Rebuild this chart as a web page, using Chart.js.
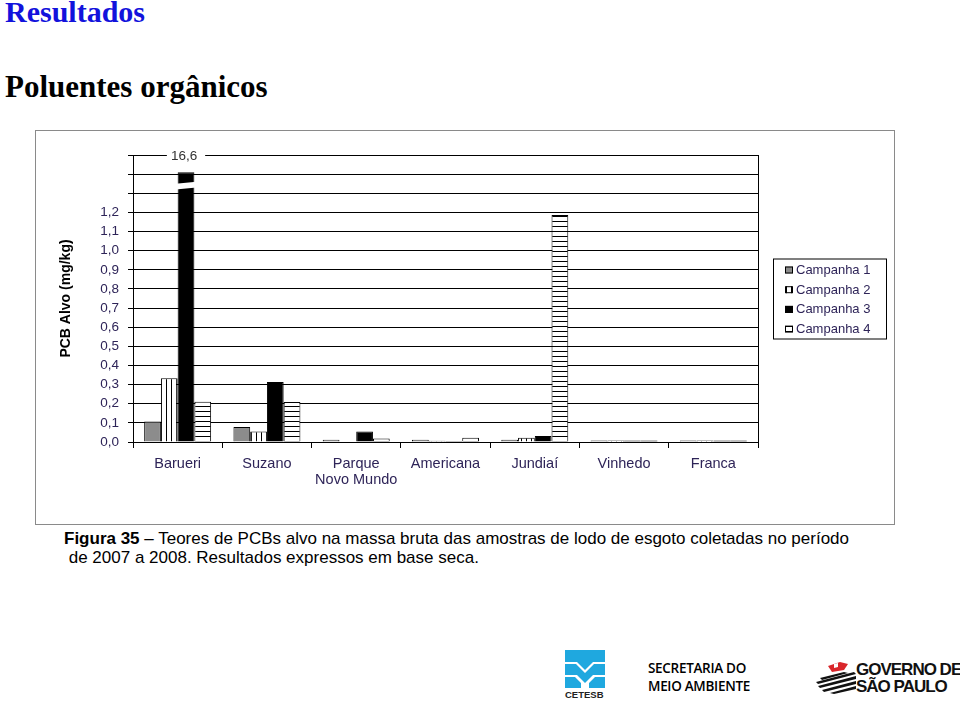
<!DOCTYPE html>
<html>
<head>
<meta charset="utf-8">
<script src="https://cdn.jsdelivr.net/npm/chart.js@4.4.1/dist/chart.umd.min.js"></script>
<style>
  html,body{margin:0;padding:0;background:#fff;}
  body{width:960px;height:702px;position:relative;overflow:hidden;font-family:"Liberation Sans",Arial,sans-serif;}
  .h1{position:absolute;left:5px;top:-5px;font-family:"Liberation Serif","Times New Roman",serif;font-weight:bold;font-size:30px;line-height:34px;color:#1212dc;white-space:nowrap;}
  .h2{position:absolute;left:5px;top:70px;font-family:"Liberation Serif","Times New Roman",serif;font-weight:bold;font-size:31px;line-height:34px;color:#000;white-space:nowrap;}
  #frame{position:absolute;left:35px;top:130px;width:860px;height:395px;box-sizing:border-box;border:1px solid #8a8a8a;}
  #c{position:absolute;left:0;top:0;}
  .cap{position:absolute;font-size:17px;line-height:20px;color:#000;white-space:pre;}
  .sma{position:absolute;left:648px;top:659px;font-family:"Open Sans",sans-serif;font-weight:600;font-size:13.5px;line-height:18px;color:#000;letter-spacing:-0.3px;white-space:nowrap;}
  .gov{position:absolute;left:856px;top:661px;font-family:"Liberation Sans",Arial,sans-serif;font-weight:bold;font-size:17px;line-height:17px;color:#111;letter-spacing:-1px;white-space:nowrap;}
  .cetesbtxt{position:absolute;left:565px;top:689px;font-family:"Liberation Sans",Arial,sans-serif;font-weight:bold;font-size:9.5px;color:#222;}
</style>
</head>
<body>
<div class="h1">Resultados</div>
<div class="h2">Poluentes orgânicos</div>
<div id="frame"><canvas id="c" width="858" height="393"></canvas></div>
<div class="cap" style="left:64px;top:529px;"><b>Figura 35</b> – Teores de PCBs alvo na massa bruta das amostras de lodo de esgoto coletadas no período</div>
<div class="cap" style="left:64px;top:548px;"> de 2007 a 2008. Resultados expressos em base seca.</div>

<svg style="position:absolute;left:565px;top:650px" width="40" height="38" viewBox="0 0 40 38">
  <path d="M0 0H40V12H28L20 20L12 12H0Z" fill="#1fa8df"/>
  <path d="M0 14H11L20 23L29 14H40V25H28L20 33L12 25H0Z" fill="#1fa8df"/>
  <path d="M0 27H10L16 33V38H0Z M40 27H30L24 33V38H40Z" fill="#1fa8df"/>
</svg>
<div class="cetesbtxt">CETESB</div>
<div class="sma">SECRETARIA DO<br>MEIO AMBIENTE</div>
<svg style="position:absolute;left:814px;top:660px" width="44" height="34" viewBox="0 0 44 34">
  <path d="M14 6 L26 2 L34 4 L30 10 L18 12 Z" fill="#d9262b"/>
  <path d="M20 4 L24 3 L24 7 L20 8Z" fill="#fff"/>
  <path d="M2 22 L40 12 L42 14 L4 24Z" fill="#111"/>
  <path d="M4 26 L42 16 L42 19 L6 28Z" fill="#111"/>
  <path d="M8 30 L42 21 L42 24 L10 32Z" fill="#111"/>
  <path d="M6 18 L30 12 L34 13 L8 20Z" fill="#111"/>
  <path d="M16 33 L42 26 L42 29 L20 34Z" fill="#111"/>
</svg>
<div class="gov">GOVERNO DE<br>SÃO PAULO</div>

<script>
// ---- data ----
const categories = ['Barueri', 'Suzano', ['Parque', 'Novo Mundo'], 'Americana', 'Jundiaí', 'Vinhedo', 'Franca'];
const seriesNames = ['Campanha 1', 'Campanha 2', 'Campanha 3', 'Campanha 4'];
const campanha1 = [0.107, 0.079, 0.012, 0.012, 0.012, 0.008, 0.008];
const campanha2 = [0.333, 0.055, 0.000, 0.006, 0.022, 0.008, 0.008];
const campanha3 = [16.6,  0.313, 0.055, 0.005, 0.032, 0.008, 0.008];
const campanha4 = [0.211, 0.209, 0.018, 0.022, 1.187, 0.008, 0.008];
const yTickLabels = ['0,0','0,1','0,2','0,3','0,4','0,5','0,6','0,7','0,8','0,9','1,0','1,1','1,2','','',''];
const axisMax = 1.5;          // top of broken axis
const brokenBarTop = 1.41;    // where an off-scale bar is drawn to
const breakGap = [1.32, 1.35];// axis-break gap (value units)

// ---- patterns ----
function stripe(vertical) {
  const p = document.createElement('canvas');
  p.width = 5; p.height = 5;
  const g = p.getContext('2d');
  g.fillStyle = '#fff'; g.fillRect(0, 0, 5, 5);
  g.fillStyle = '#000';
  if (vertical) g.fillRect(0, 0, 1, 5); else g.fillRect(0, 0, 5, 1);
  return document.getElementById('c').getContext('2d').createPattern(p, 'repeat');
}
const fills = ['#8c8c8c', stripe(true), '#000000', stripe(false)];
const rawSeries = [campanha1, campanha2, campanha3, campanha4];
const shown = arr => arr.map(v => v > axisMax ? brokenBarTop : v);

const tickColor = '#2e2458';

const breakPlugin = {
  id: 'axisBreak',
  afterDatasetsDraw(chart) {
    const ctx = chart.ctx, y = chart.scales.y;
    chart.data.datasets.forEach((ds, di) => {
      const meta = chart.getDatasetMeta(di);
      rawSeries[di].forEach((v, i) => {
        if (v <= axisMax) return;
        const el = meta.data[i];
        const hw = el.width / 2 + 2;
        const yl1 = y.getPixelForValue(breakGap[0]), yl2 = y.getPixelForValue(breakGap[1]);
        const yr1 = y.getPixelForValue(breakGap[0] + 0.01), yr2 = y.getPixelForValue(breakGap[1] + 0.01);
        ctx.save();
        ctx.fillStyle = '#fff';
        ctx.beginPath();
        ctx.moveTo(el.x - hw, yl1); ctx.lineTo(el.x + hw, yr1);
        ctx.lineTo(el.x + hw, yr2); ctx.lineTo(el.x - hw, yl2);
        ctx.closePath(); ctx.fill();
        // value label at axis top
        const label = v.toFixed(1).replace('.', ',');
        ctx.font = '13.5px "Liberation Sans", Arial, sans-serif';
        const tw = ctx.measureText(label).width;
        const ty = y.getPixelForValue(axisMax);
        ctx.fillRect(el.x - tw / 2 - 6, ty - 2, tw + 12, 4);
        ctx.fillStyle = '#333';
        ctx.textAlign = 'center'; ctx.textBaseline = 'middle';
        ctx.fillText(label, el.x - 2, ty + 1);
        ctx.restore();
      });
    });
  }
};

const legendPlugin = {
  id: 'boxLegend',
  afterDraw(chart) {
    const ctx = chart.ctx, a = chart.chartArea;
    const w = 113, h = 80;
    const x0 = a.right + 15, y0 = (a.top + a.bottom) / 2 - h / 2;
    ctx.save();
    ctx.fillStyle = '#fff'; ctx.fillRect(x0, y0, w, h);
    ctx.strokeStyle = '#000'; ctx.lineWidth = 1;
    ctx.strokeRect(x0 + 0.5, y0 + 0.5, w, h);
    ctx.font = '13px "Liberation Sans", Arial, sans-serif';
    ctx.textBaseline = 'middle';
    chart.data.datasets.forEach((ds, i) => {
      const cy = y0 + 11 + i * 19.7;
      ctx.fillStyle = ds.backgroundColor;
      ctx.fillRect(x0 + 12, cy - 3, 8, 7);
      ctx.strokeStyle = '#000';
      ctx.strokeRect(x0 + 12.5, cy - 2.5, 7, 6);
      ctx.fillStyle = tickColor;
      ctx.fillText(ds.label, x0 + 23, cy + 1);
    });
    ctx.restore();
  }
};

new Chart(document.getElementById('c'), {
  type: 'bar',
  data: {
    labels: categories,
    datasets: rawSeries.map((arr, i) => ({
      label: seriesNames[i],
      data: shown(arr),
      backgroundColor: fills[i],
      borderColor: '#000',
      borderWidth: 1,
      categoryPercentage: 0.75,
      barPercentage: 1.0
    }))
  },
  options: {
    responsive: false,
    animation: false,
    layout: { padding: { left: 0, right: 136, top: 24, bottom: 0 } },
    plugins: { legend: { display: false }, tooltip: { enabled: false } },
    scales: {
      x: {
        grid: { display: true, drawOnChartArea: false, drawTicks: true, tickLength: 6, color: '#000' },
        border: { color: '#000' },
        ticks: { color: tickColor, font: { family: '"Liberation Sans", Arial, sans-serif', size: 14.5, lineHeight: 1.1 }, padding: 8, maxRotation: 0, autoSkip: false },
        afterFit(s) { s.height = 82; }
      },
      y: {
        min: 0, max: axisMax,
        ticks: { stepSize: 0.1, color: tickColor, padding: 9, autoSkip: false,
          font: { family: '"Liberation Sans", Arial, sans-serif', size: 13.5 },
          callback: (v, i) => yTickLabels[i] },
        grid: { color: '#000', lineWidth: 1, tickLength: 5 },
        border: { color: '#000' },
        title: { display: true, text: 'PCB Alvo (mg/kg)', color: '#000', padding: { top: 22, bottom: 0 },
          font: { family: '"Liberation Sans", Arial, sans-serif', size: 14, weight: 'bold' } },
        afterFit(s) { s.width = 97; }
      },
      y2: {
        position: 'right', min: 0, max: axisMax,
        ticks: { display: false },
        grid: { drawOnChartArea: false, drawTicks: false },
        border: { color: '#000' },
        afterFit(s) { s.width = 0; }
      }
    }
  },
  plugins: [breakPlugin, legendPlugin]
});
</script>
</body>
</html>
